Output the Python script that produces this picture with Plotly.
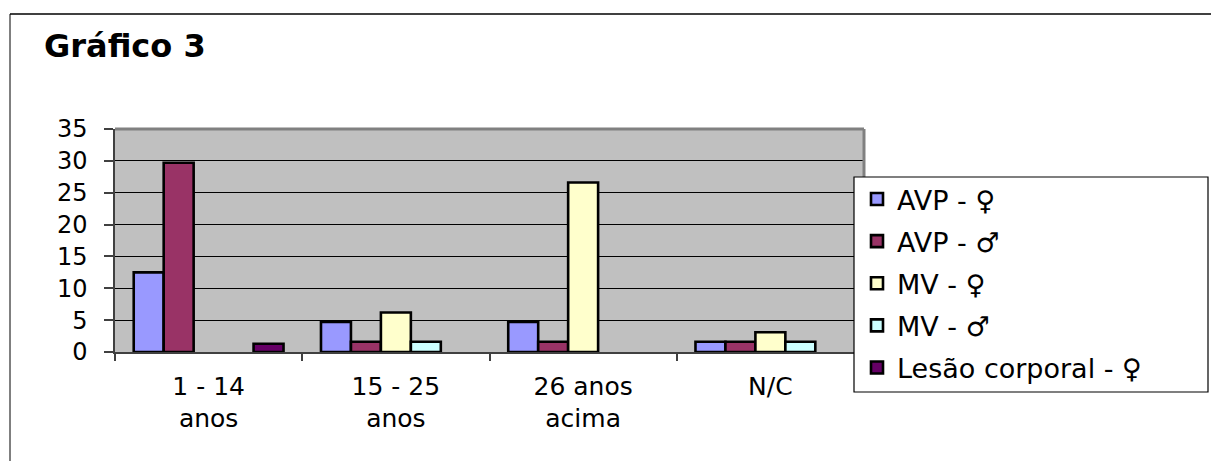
import plotly.graph_objects as go

# Age groups on the x axis (two-line labels)
categories = ["1 - 14<br>anos", "15 - 25<br>anos", "26 anos<br>acima", "N/C"]

# Series names and values per age group (0 = no occurrences)
series_names = ["AVP - ♀", "AVP - ♂", "MV - ♀", "MV - ♂", "Lesão corporal - ♀"]
avp_fem = [12.5, 4.7, 4.7, 1.6]
avp_masc = [29.7, 1.6, 1.6, 1.6]
mv_fem = [0, 6.2, 26.6, 3.1]
mv_masc = [0, 1.6, 0, 1.6]
lesao_fem = [1.3, 0, 0, 0]
series_values = [avp_fem, avp_masc, mv_fem, mv_masc, lesao_fem]
series_colors = ["#9999FF", "#993366", "#FFFFCC", "#CCFFFF", "#660066"]

y_ticks = [0, 5, 10, 15, 20, 25, 30, 35]

W, H = 1211, 461
ML, MR, MT, MB = 115, 347, 129, 109
PW, PH = W - ML - MR, H - MT - MB


def px_x(px):
    return (px - ML) / PW


def px_y(py):
    return (H - MB - py) / PH


FONT = "DejaVu Sans"

fig = go.Figure()
for name, vals, col in zip(series_names, series_values, series_colors):
    # empty cells are left out so no outline is drawn on the baseline
    fig.add_trace(go.Bar(
        x=categories, y=[v if v else None for v in vals], name=name,
        legendgroup=name,
        marker=dict(color=col, line=dict(color="black", width=2.6)),
    ))

shapes = [
    # outer chart border (top and left edges visible)
    dict(type="line", xref="paper", yref="paper",
         x0=px_x(10), x1=px_x(1215), y0=px_y(14), y1=px_y(14),
         line=dict(color="#404040", width=2)),
    dict(type="line", xref="paper", yref="paper",
         x0=px_x(10), x1=px_x(10), y0=px_y(14), y1=px_y(470),
         line=dict(color="#000000", width=1)),
    # plot area frame
    dict(type="line", xref="paper", yref="paper", x0=0, x1=1, y0=1, y1=1,
         line=dict(color="#808080", width=3), layer="above"),
    dict(type="line", xref="paper", yref="paper", x0=1, x1=1, y0=0, y1=1,
         line=dict(color="#808080", width=3), layer="above"),
    # legend box
    dict(type="rect", xref="paper", yref="paper",
         x0=px_x(854), x1=px_x(1208), y0=px_y(392), y1=px_y(177),
         fillcolor="white", line=dict(color="black", width=1.2), layer="above"),
]

fig.update_layout(
    width=W, height=H, autosize=False,
    margin=dict(l=ML, r=MR, t=MT, b=MB, pad=0),
    paper_bgcolor="white", plot_bgcolor="#C0C0C0",
    barmode="group", bargap=0.2, bargroupgap=0,
    font=dict(family=FONT, color="black", size=24),
    showlegend=True,
    legend=dict(
        x=px_x(857), y=px_y(175), xanchor="left", yanchor="top",
        bgcolor="rgba(0,0,0,0)", borderwidth=0,
        font=dict(family=FONT, size=27, color="black"),
        tracegroupgap=4, traceorder="grouped",
    ),
    shapes=shapes,
    annotations=[dict(
        text="<b>Gráfico 3</b>", xref="paper", yref="paper",
        x=px_x(42), y=px_y(46), xanchor="left", yanchor="middle",
        showarrow=False, font=dict(family=FONT, size=32, color="black"),
    )],
)

fig.update_xaxes(
    type="category", showgrid=False, showline=True, linecolor="#404040",
    linewidth=1.5, ticks="outside", tickson="boundaries", ticklen=7,
    tickcolor="#404040", tickwidth=1.5, tickfont=dict(size=25),
    ticklabelstandoff=11,
)
fig.update_yaxes(
    range=[0, 35], tickvals=y_ticks, showgrid=True, gridcolor="#000000",
    gridwidth=1, showline=True, linecolor="#404040", linewidth=1.5,
    ticks="outside", ticklen=9, tickcolor="#404040", tickwidth=1.5,
    tickfont=dict(size=24), zeroline=False, ticklabelstandoff=12,
)

fig.write_html("out.html")
